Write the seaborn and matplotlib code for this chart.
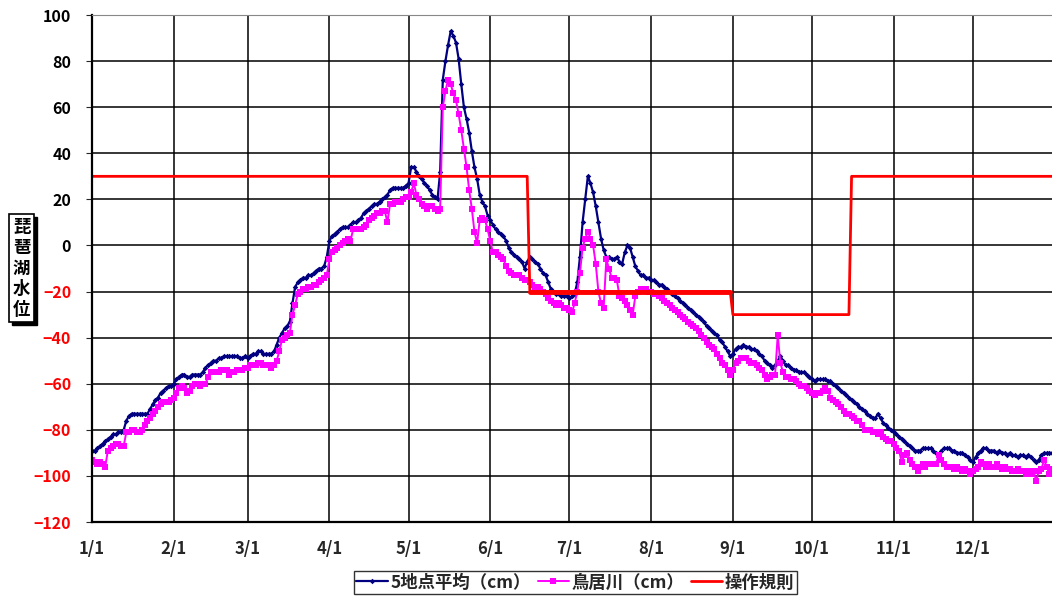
import numpy as np
import pandas as pd
import matplotlib
matplotlib.use("Agg")
import matplotlib.pyplot as plt
import matplotlib.dates as mdates
import matplotlib.transforms as mtransforms
from matplotlib.patches import Rectangle
from matplotlib.ticker import FuncFormatter
import seaborn as sns

# daily water level readings (cm), one row per month
avg5_jan = [-89, -89, -88, -87, -86, -85, -84, -83, -82, -82, -81, -81, -80, -76, -74, -73, -73, -73, -73, -73, -73, -73, -71, -69, -67, -66, -64, -63, -62, -61, -61]
avg5_feb = [-60, -58, -57, -56, -56, -57, -57, -56, -56, -56, -56, -55, -53, -52, -51, -50, -50, -49, -49, -48, -48, -48, -48, -48, -48, -49, -49, -48]
avg5_mar = [-49, -48, -47, -47, -46, -46, -47, -47, -47, -47, -46, -43, -40, -38, -36, -35, -33, -25, -18, -16, -15, -14, -14, -13, -13, -12, -11, -10, -10, -9, -5]
avg5_apr = [2, 4, 5, 6, 7, 8, 8, 8, 9, 10, 10, 11, 12, 14, 15, 16, 17, 18, 18, 19, 20, 21, 22, 24, 25, 25, 25, 25, 25, 26]
avg5_may = [27, 34, 34, 32, 30, 29, 27, 26, 24, 22, 21, 20, 32, 72, 80, 87, 93, 91, 88, 81, 70, 60, 55, 49, 41, 34, 29, 22, 19, 17, 13]
avg5_jun = [11, 9, 7, 6, 5, 4, 2, -1, -3, -4, -5, -6, -7, -10, -7, -5, -6, -7, -8, -10, -12, -13, -16, -19, -20, -21, -21, -22, -22, -22]
avg5_jul = [-23, -22, -21, -16, -5, 10, 20, 30, 27, 23, 17, 10, 3, -2, -5, -5, -6, -6, -5, -7, -8, -3, 0, -1, -5, -9, -11, -13, -13, -14, -14]
avg5_aug = [-15, -15, -16, -17, -17, -18, -19, -20, -21, -22, -23, -24, -25, -26, -27, -28, -29, -30, -31, -32, -33, -35, -36, -37, -38, -39, -41, -42, -44, -46, -48]
avg5_sep = [-47, -45, -44, -44, -43, -44, -44, -45, -45, -46, -47, -48, -50, -51, -52, -53, -52, -50, -48, -50, -52, -52, -53, -54, -54, -55, -55, -55, -56, -57]
avg5_oct = [-58, -59, -58, -58, -58, -58, -59, -59, -60, -61, -62, -63, -64, -65, -66, -67, -68, -69, -70, -71, -72, -73, -74, -75, -75, -73, -75, -77, -78, -79, -80]
avg5_nov = [-81, -82, -83, -84, -85, -86, -87, -88, -89, -89, -89, -88, -88, -88, -88, -89, -90, -91, -89, -88, -88, -88, -89, -89, -90, -90, -90, -91, -92, -93]
avg5_dec = [-94, -92, -90, -89, -88, -88, -89, -89, -89, -90, -89, -90, -90, -91, -90, -91, -91, -92, -91, -91, -92, -91, -92, -93, -94, -93, -91, -90, -90, -90, -90]

torii_jan = [-93, -94, -95, -94, -95, -96, -89, -88, -87, -86, -86, -87, -87, -81, -81, -80, -80, -81, -81, -80, -78, -76, -75, -73, -72, -70, -69, -68, -68, -68, -67]
torii_feb = [-66, -64, -62, -61, -62, -64, -63, -61, -60, -60, -61, -60, -60, -57, -55, -55, -55, -55, -54, -54, -54, -56, -55, -55, -54, -54, -54, -53]
torii_mar = [-53, -52, -52, -52, -51, -51, -52, -52, -52, -53, -52, -50, -46, -41, -40, -39, -38, -30, -26, -21, -20, -19, -19, -18, -18, -17, -17, -16, -15, -14, -13]
torii_apr = [-6, -3, -2, -1, 0, 1, 2, 3, 2, 7, 7, 7, 7, 8, 9, 11, 12, 13, 14, 14, 15, 15, 10, 18, 18, 19, 19, 19, 20, 21]
torii_may = [21, 23, 27, 22, 20, 18, 17, 16, 17, 17, 16, 15, 16, 60, 67, 72, 70, 66, 63, 57, 50, 42, 34, 24, 16, 6, 1, 11, 12, 11, 7]
torii_jun = [2, -3, -3, -4, -5, -6, -9, -11, -12, -13, -13, -13, -14, -15, -15, -16, -17, -18, -18, -19, -20, -21, -23, -24, -25, -26, -25, -26, -27, -27]
torii_jul = [-28, -29, -25, -20, -12, -1, 3, 6, 3, 0, -8, -20, -25, -27, -6, -10, -14, -14, -15, -22, -23, -24, -26, -28, -30, -22, -20, -19, -19, -19, -20]
torii_aug = [-20, -21, -21, -22, -23, -24, -25, -26, -27, -28, -29, -30, -31, -32, -33, -34, -35, -36, -37, -39, -40, -42, -43, -44, -45, -47, -49, -51, -52, -54, -56]
torii_sep = [-54, -51, -50, -49, -49, -49, -50, -51, -51, -52, -53, -54, -56, -58, -57, -56, -56, -39, -51, -55, -57, -57, -58, -58, -59, -60, -61, -61, -62, -63]
torii_oct = [-64, -65, -64, -64, -63, -62, -63, -66, -67, -68, -69, -70, -72, -73, -73, -74, -75, -76, -76, -78, -80, -80, -80, -81, -81, -82, -81, -83, -84, -85, -85]
torii_nov = [-86, -88, -89, -94, -91, -90, -93, -95, -96, -98, -96, -95, -96, -95, -95, -95, -95, -91, -93, -95, -96, -96, -96, -97, -96, -97, -98, -97, -98, -99]
torii_dec = [-98, -97, -96, -94, -95, -96, -95, -96, -96, -95, -96, -97, -96, -97, -97, -98, -98, -97, -98, -98, -99, -98, -99, -98, -102, -98, -97, -93, -96, -99, -97]

# operating rule (step changes)
rule_dates = ["2023-01-01", "2023-06-15", "2023-06-16", "2023-08-31", "2023-09-01", "2023-10-15", "2023-10-16", "2023-12-31"]
rule_values = [30, 30, -20, -20, -30, -30, 30, 30]

avg5 = avg5_jan + avg5_feb + avg5_mar + avg5_apr + avg5_may + avg5_jun + avg5_jul + avg5_aug + avg5_sep + avg5_oct + avg5_nov + avg5_dec
torii = torii_jan + torii_feb + torii_mar + torii_apr + torii_may + torii_jun + torii_jul + torii_aug + torii_sep + torii_oct + torii_nov + torii_dec
dates = pd.date_range("2023-01-01", "2023-12-31", freq="D")
rule_x = pd.to_datetime(rule_dates)

sns.set_style("white")
plt.rcParams['font.family'] = ['Noto Sans CJK JP', 'DejaVu Sans']
plt.rcParams['font.weight'] = 'bold'

fig = plt.figure(figsize=(10.52, 6.03), dpi=100)
ax = fig.add_axes([0.0875, 0.1343, 0.9125, 0.8408])

sns.lineplot(x=dates, y=avg5, ax=ax, color="#000080", linewidth=1.6, marker="D",
             markersize=2.8, markeredgewidth=0, label="5地点平均（cm）")
sns.lineplot(x=dates, y=torii, ax=ax, color="#FF00FF", linewidth=1.4, marker="s",
             markersize=4.8, markeredgewidth=0, label="鳥居川（cm）")
sns.lineplot(x=rule_x, y=rule_values, ax=ax, color="#FF0000",
             linewidth=2.0, label="操作規則")
# the summer -20 stretch is drawn heavier in the original
sns.lineplot(x=rule_x[2:4], y=rule_values[2:4], ax=ax, color="#FF0000", linewidth=3.5, legend=False)

ax.set_xlim(dates[0], dates[-1])
ax.set_ylim(-120, 100)
ax.xaxis.set_major_locator(mdates.MonthLocator())
ax.xaxis.set_major_formatter(FuncFormatter(lambda v, p: f"{mdates.num2date(v).month}/{mdates.num2date(v).day}"))
yt = list(range(-120, 101, 20))
ax.set_yticks(yt)
ax.set_yticklabels([str(v).replace("-", "\u2212") for v in yt])
for lab, v in zip(ax.get_yticklabels(), yt):
    lab.set_color("red" if v < 0 else "black")

ax.grid(True, color="black", linewidth=1.1)
ax.tick_params(axis="y", length=4, pad=11, labelsize=11.5, left=True)
ax.tick_params(axis="x", length=0, pad=13, labelsize=12)
for lab in ax.get_xticklabels() + ax.get_yticklabels():
    lab.set_fontweight("bold")
ax.set_xlabel("")
ax.set_ylabel("")
for s in ["left", "bottom"]:
    ax.spines[s].set_color("black")
    ax.spines[s].set_linewidth(1.6)
ax.spines["top"].set_color("#888888")
ax.spines["right"].set_visible(False)

handles, labels = ax.get_legend_handles_labels()
ax.get_legend().remove()
leg = fig.legend(handles[:3], labels[:3], loc="center", bbox_to_anchor=(0.547, 0.034), ncol=3,
                 frameon=True, fancybox=False, edgecolor="black", fontsize=12.5,
                 handlelength=1.8, columnspacing=0.4, handletextpad=0.15, borderpad=0.15,
                 borderaxespad=0)
leg.get_frame().set_linewidth(1.0)

# boxed vertical y label with a drop shadow
ylab = fig.text(0.0205, 0.555, "\n".join("琵琶湖水位"), ha="center", va="center", fontsize=12.5,
                fontweight="bold", color="black", linespacing=1.2, zorder=5,
                bbox=dict(boxstyle="square,pad=0.2", facecolor="white", edgecolor="black", linewidth=1.2))
fig.canvas.draw()
bb = ylab.get_bbox_patch().get_window_extent()
fig.add_artist(Rectangle((bb.x0 + 3, bb.y0 - 3), bb.width, bb.height,
                         transform=mtransforms.IdentityTransform(), facecolor="black",
                         edgecolor="black", zorder=4))

fig.savefig("out.png", dpi=100)
